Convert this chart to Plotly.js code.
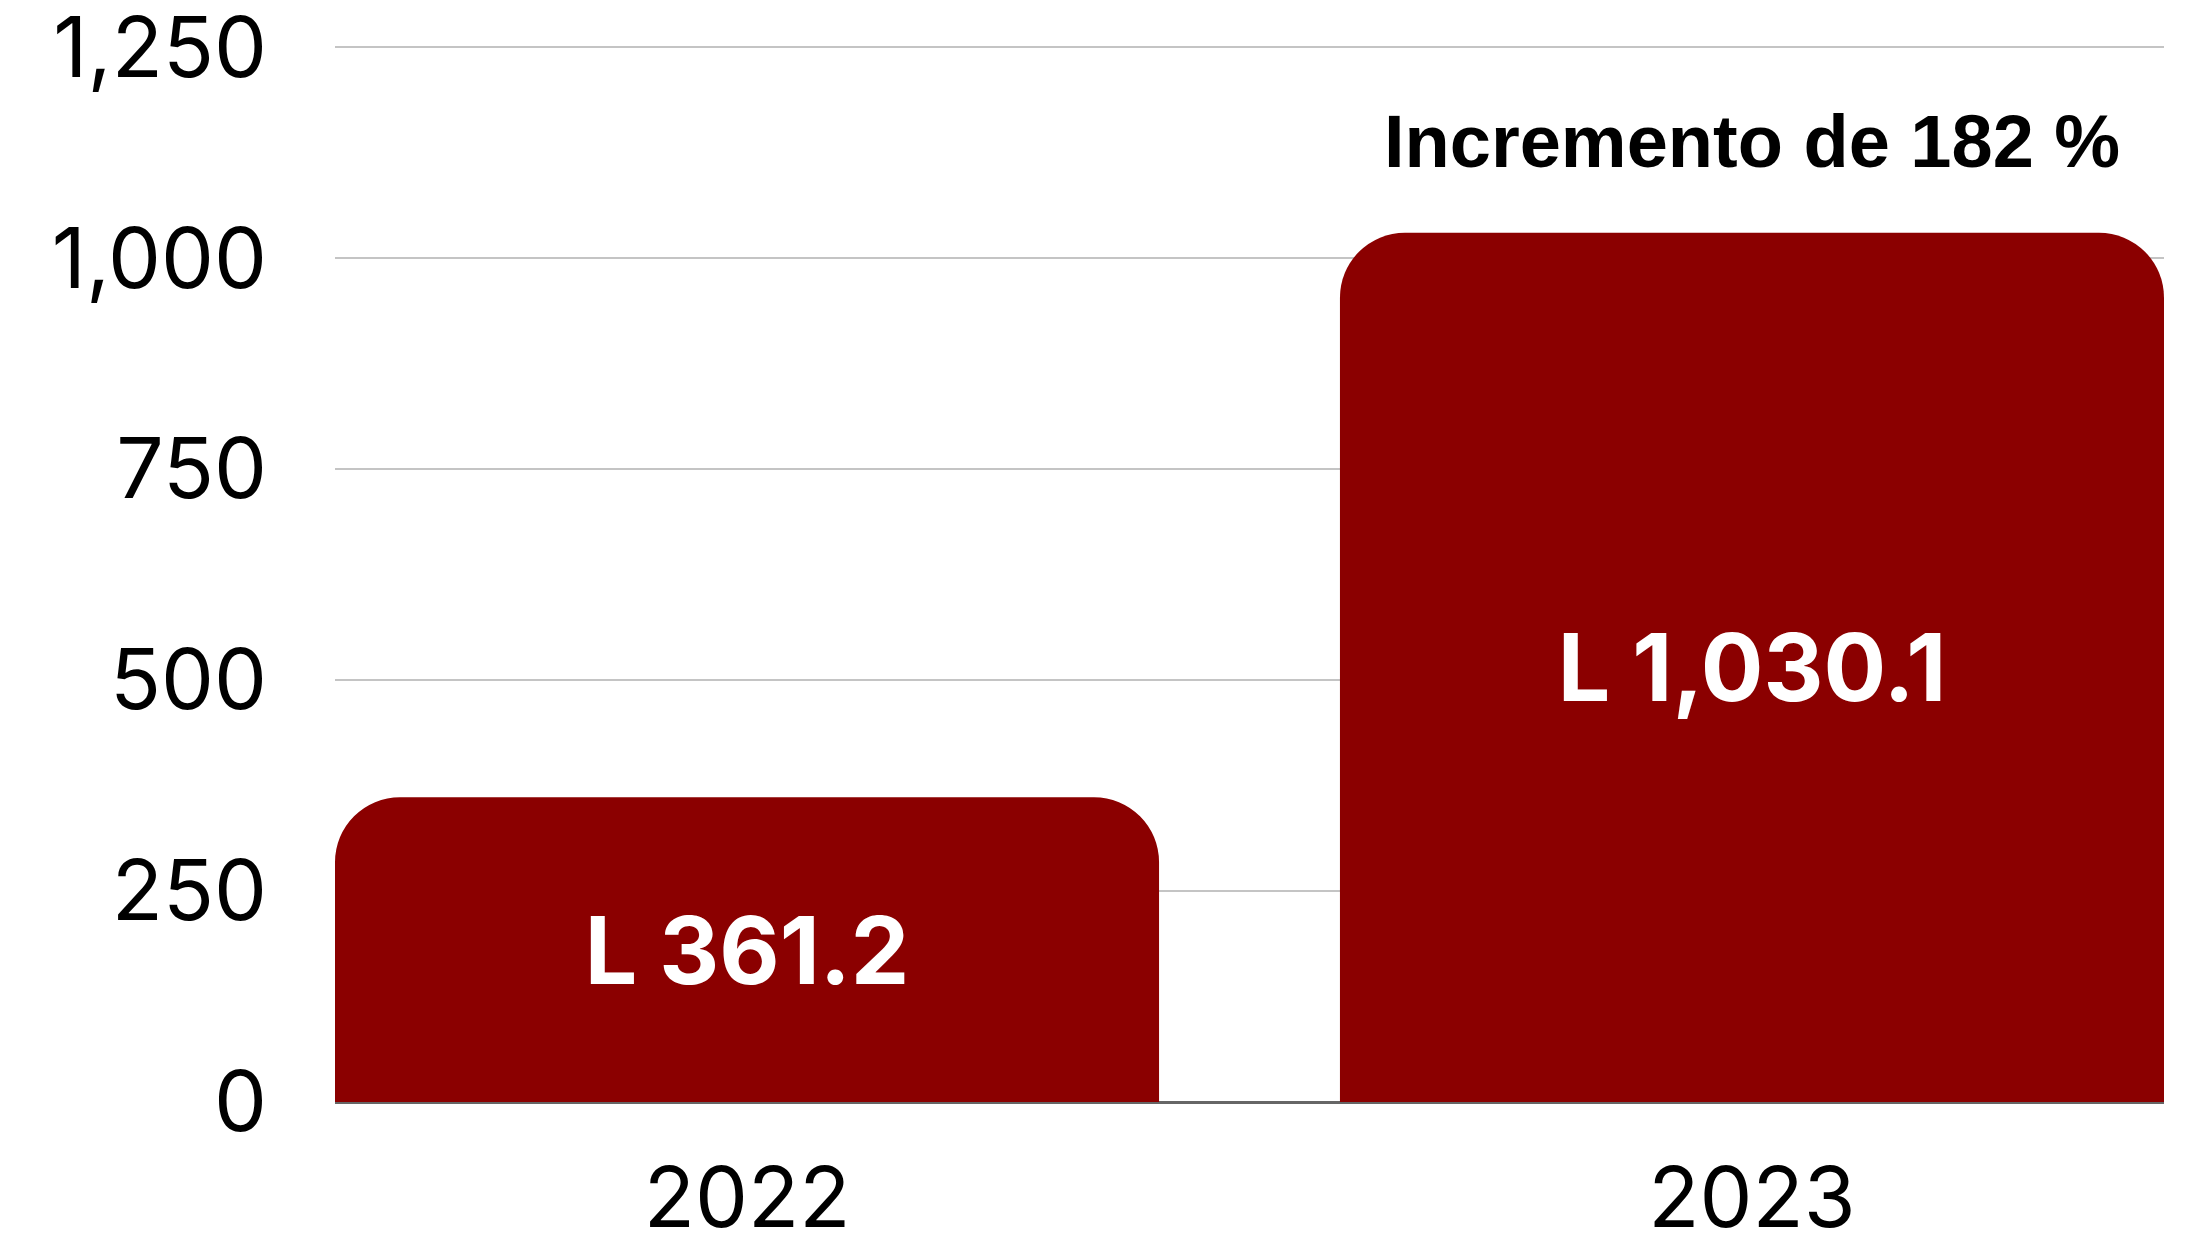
<!DOCTYPE html>
<html>
<head>
<meta charset="utf-8">
<script src="https://cdn.plot.ly/plotly-3.0.1.min.js"></script>
<style>html,body{margin:0;padding:0;background:#fff}#chart{width:2189px;height:1254px}</style>
</head>
<body>
<div id="chart"></div>
<script>
const years = ['2022', '2023'];
const values = [361.2, 1030.1];
const barLabels = ['L 361.2', 'L 1,030.1'];
const yTicks = [0, 250, 500, 750, 1000, 1250];
const yTickLabels = ['0', '250', '500', '750', '1,000', '1,250'];
const annotationText = 'Incremento de 182 %';

const trace = {
  type: 'bar',
  x: years,
  y: values,
  text: barLabels,
  texttemplate: '%{text}',
  textposition: 'inside',
  insidetextanchor: 'middle',
  textangle: 0,
  constraintext: 'none',
  textfont: {family: 'Inter, Open Sans, sans-serif', size: 93, color: '#ffffff', weight: 700},
  marker: {color: '#8b0000', line: {width: 0}},
  hoverinfo: 'skip'
};

const layout = {
  width: 2189,
  height: 1254,
  margin: {l: 335, r: 25, t: 37, b: 152},
  paper_bgcolor: '#ffffff',
  plot_bgcolor: '#ffffff',
  showlegend: false,
  bargap: 0.18,
  barcornerradius: 65,
  font: {family: 'Inter, Open Sans, sans-serif', color: '#000000'},
  xaxis: {
    type: 'category',
    range: [-0.41, 1.41],
    showgrid: false,
    zeroline: false,
    showline: false,
    ticks: '',
    tickfont: {family: 'Inter, Open Sans, sans-serif', size: 84, color: '#000000'},
    ticklabelstandoff: 40
  },
  yaxis: {
    range: [0, 1262],
    tickmode: 'array',
    tickvals: yTicks,
    ticktext: yTickLabels,
    showgrid: true,
    gridcolor: '#c4c4c4',
    gridwidth: 2,
    zeroline: true,
    zerolinecolor: '#666666',
    zerolinewidth: 3,
    showline: false,
    ticks: '',
    ticklabeloverflow: 'allow',
    tickfont: {family: 'Inter, Open Sans, sans-serif', size: 84, color: '#000000'},
    ticklabelstandoff: 67
  },
  annotations: [{
    x: 1,
    y: 1138,
    xref: 'x',
    yref: 'y',
    text: '<b>' + annotationText + '</b>',
    showarrow: false,
    xanchor: 'center',
    yanchor: 'middle',
    font: {family: 'Liberation Sans Narrow, Liberation Sans, sans-serif', size: 74, color: '#000000'}
  }]
};

Plotly.newPlot('chart', [trace], layout, {displayModeBar: false, staticPlot: true});
</script>
</body>
</html>
